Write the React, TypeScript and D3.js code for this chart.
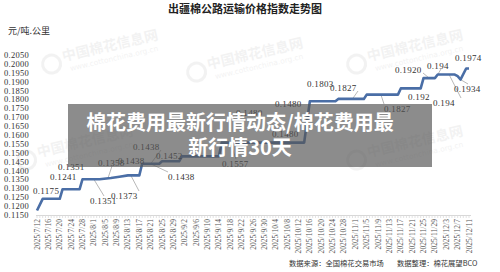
import React from "react";
import * as d3 from "d3";

const W = 500;
const H = 272;

const title = "出疆棉公路运输价格指数走势图";
const unitLabel = "元/吨.公里";
const sourceText = "数据来源：全国棉花交易市场";
const editorText = "数据整理：棉花展望BCO";
const bannerLines = ["棉花费用最新行情动态/棉花费用最", "新行情30天"];

const yTicks = [0.205, 0.2, 0.195, 0.19, 0.185, 0.18, 0.175, 0.17, 0.165, 0.16, 0.155, 0.15, 0.145, 0.14, 0.135, 0.13, 0.125, 0.12, 0.115];

const xTickLabels = [
  "2025/7/12", "2025/7/16", "2025/7/20", "2025/7/24", "2025/7/28", "2025/8/1", "2025/8/5", "2025/8/9",
  "2025/8/13", "2025/8/17", "2025/8/21", "2025/8/25", "2025/8/29", "2025/9/2", "2025/9/6", "2025/9/10",
  "2025/9/14", "2025/9/18", "2025/9/22", "2025/9/26", "2025/9/30", "2025/10/4", "2025/10/8", "2025/10/12",
  "2025/10/16", "2025/10/20", "2025/10/24", "2025/10/28", "2025/11/1", "2025/11/5", "2025/11/9", "2025/11/13",
  "2025/11/17", "2025/11/21", "2025/11/25", "2025/11/29", "2025/12/3", "2025/12/7", "2025/12/11",
];

const pointDates = [
  "2025/7/12", "2025/7/14", "2025/7/20", "2025/7/21", "2025/7/27", "2025/7/28", "2025/8/3", "2025/8/7",
  "2025/8/10", "2025/8/13", "2025/8/17", "2025/8/18", "2025/8/24", "2025/8/25", "2025/8/31", "2025/9/1",
  "2025/9/14", "2025/9/15", "2025/10/14", "2025/10/16", "2025/10/25", "2025/10/26", "2025/11/4", "2025/11/5",
  "2025/11/16", "2025/11/17", "2025/11/24", "2025/11/25", "2025/11/29", "2025/11/30", "2025/12/6", "2025/12/7",
  "2025/12/8", "2025/12/10", "2025/12/11",
];
const pointValues = [
  0.1175, 0.1241, 0.1241, 0.1295, 0.1295, 0.1351, 0.1351, 0.1358,
  0.1365, 0.1373, 0.1373, 0.1438, 0.1438, 0.1452, 0.1452, 0.148,
  0.148, 0.1557, 0.1557, 0.179, 0.179, 0.1803, 0.1803, 0.1827,
  0.1827, 0.1862, 0.1862, 0.192, 0.192, 0.194, 0.194, 0.1931,
  0.1912, 0.1974, 0.1974,
];

const annText = ["0.1175", "0.1241", "0.1351", "0.1351", "0.1373", "0.1358", "0.1438", "0.1438", "0.1452", "0.1438", "0.1557", "0.1480", "0.1480", "0.1480", "0.1803", "0.1827", "0.1827", "0.1920", "0.194", "0.192", "0.194", "0.1934", "0.1974"];
const annX = [33, 50, 58, 90, 111, 98, 118, 133, 156, 168, 222, 236, 272, 275, 307, 330, 384, 395, 427, 408, 433, 454, 455];
const annY = [190, 176, 166, 200, 195, 162, 160, 146, 155, 176, 163, 112, 133, 103, 83, 87, 108, 69, 65, 96, 102, 88, 57];
const annDate = ["", "", "", "2025/8/1", "2025/8/14", "2025/8/6", "", "2025/8/21", "", "2025/8/21", "2025/9/18", "", "", "", "", "2025/10/31", "2025/11/10", "2025/11/27", "2025/11/30", "", "2025/12/4", "2025/12/8", ""];
const annVal = [0, 0, 0, 0.1351, 0.1373, 0.1358, 0, 0.1438, 0, 0.1438, 0.1557, 0, 0, 0, 0, 0.1803, 0.1827, 0.192, 0.194, 0, 0.194, 0.1912, 0];

const watermarks = [
  [95, 52], [240, 60], [400, 52], [70, 148], [400, 148],
];

const parse = d3.timeParse("%Y/%m/%d");

export default function App() {
  const x = d3
    .scaleTime()
    .domain([parse("2025/07/12") as Date, parse("2025/12/11") as Date])
    .range([37, 469]);
  const y = d3.scaleLinear().domain([0.115, 0.205]).range([215, 55]);

  const pts = pointDates.map((d, i) => [x(parse(d) as Date), y(pointValues[i])] as [number, number]);
  const line = d3.line().curve(d3.curveLinear)(pts) || "";

  const days = d3.timeDay.range(parse("2025/07/12") as Date, d3.timeDay.offset(parse("2025/12/11") as Date, 1));

  const labelFont = "'Liberation Serif', 'DejaVu Serif', serif";

  return (
    <svg width={W} height={H} style={{ position: "absolute", left: 0, top: 0, background: "#fff" }}>
      <rect x={0} y={0} width={W} height={H} fill="#fff" />
      {watermarks.map(([cx, cy], i) => (
        <g key={i} transform={`translate(${cx},${cy}) rotate(-13)`} opacity={0.08}>
          <circle cx={-45} cy={2} r={9} fill="none" stroke="#666" strokeWidth={3} />
          <text x={-33} y={2} fontSize={14} fontWeight={700} fill="#666" fontFamily="'Noto Sans CJK SC'">
            中国棉花信息网
          </text>
          <text x={-28} y={13} fontSize={7.5} fill="#666" fontFamily="'DejaVu Sans'">
            www.cottonchina.org.cn
          </text>
        </g>
      ))}

      <text x={245} y={13} textAnchor="middle" fontSize={11} fontWeight={700} fill="#222" fontFamily="'Noto Sans CJK SC'">
        {title}
      </text>
      <text x={8} y={34} fontSize={9} fill="#333" fontFamily="'Noto Sans CJK SC'">
        {unitLabel}
      </text>

      {yTicks.map((t) => (
        <text key={t} x={4} y={y(t) + 3} fontSize={8.5} fill="#333" fontFamily={labelFont} letterSpacing={0.3}>
          {t.toFixed(4)}
        </text>
      ))}

      <line x1={36} x2={471} y1={215.5} y2={215.5} stroke="#d8d8d8" strokeWidth={1} />
      {days.map((d, i) => (
        <line key={i} x1={x(d)} x2={x(d)} y1={215.5} y2={218} stroke="#dcdcdc" strokeWidth={0.8} />
      ))}
      {xTickLabels.map((l) => {
        const px = x(parse(l) as Date);
        return (
          <text
            key={l}
            transform={`translate(${px + 2.5},219) rotate(-90)`}
            textAnchor="end"
            fontSize={7.6}
            fill="#555"
            fontFamily={labelFont}
          >
            {l}
          </text>
        );
      })}

      {annText.map((t, i) => {
        if (!annDate[i]) return null;
        const px = x(parse(annDate[i]) as Date);
        const py = y(annVal[i]);
        const lx = annX[i] + (px > annX[i] + 14 ? 28 : px < annX[i] ? 0 : 14);
        const ly = annY[i] + (py > annY[i] ? 4 : -4);
        return <line key={"l" + i} x1={lx} y1={ly} x2={px} y2={py} stroke="#999" strokeWidth={0.7} />;
      })}

      <path d={line} fill="none" stroke="#4a6ea6" strokeWidth={2.6} strokeLinejoin="round" />

      {annText.map((t, i) => (
        <text key={"a" + i} x={annX[i]} y={annY[i] + 3.5} fontSize={9} fill="#333" fontFamily={labelFont} letterSpacing={0.3}>
          {t}
        </text>
      ))}

      <text x={289} y={266} fontSize={7.3} fill="#333" fontFamily="'Noto Sans CJK SC'">
        {sourceText}
      </text>
      <text x={397} y={266} fontSize={7.3} fill="#333" fontFamily="'Noto Sans CJK SC'">
        {editorText}
      </text>

      <rect x={68} y={104} width={364} height={63} fill="rgb(85,85,85)" opacity={0.68} />
      {bannerLines.map((l, i) => (
        <text
          key={l}
          x={240}
          y={130 + i * 25}
          textAnchor="middle"
          fontSize={20}
          fontWeight={700}
          fill="#fff"
          fontFamily="'Noto Sans CJK SC'"
        >
          {l}
        </text>
      ))}
    </svg>
  );
}
